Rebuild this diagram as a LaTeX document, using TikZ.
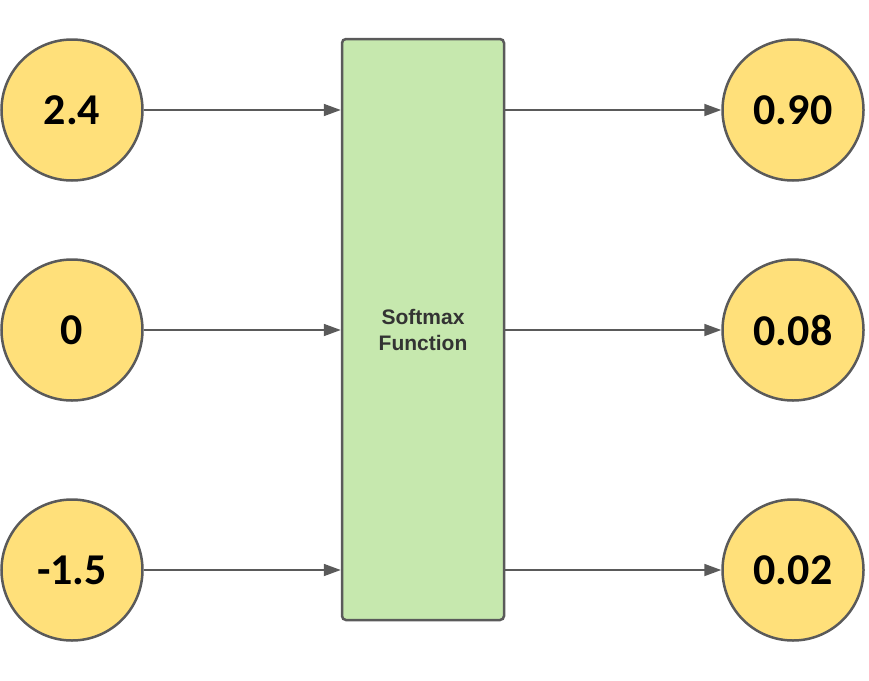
\documentclass[tikz,border=0pt]{standalone}
\usepackage{fontspec}
\usepackage{xcolor}
\usepackage{tikz}
\usetikzlibrary{arrows.meta,calc}
\newfontfamily\numfont{Carlito}
\newfontfamily\boxfont{Liberation Sans}
\definecolor{valfill}{HTML}{FFE07A}
\definecolor{boxfill}{HTML}{C6E8AE}
\definecolor{edgegray}{HTML}{5A5A5A}
\begin{document}
\begin{tikzpicture}[
x=1pt,
y=-1pt,
valnode/.style={circle,draw=edgegray,line width=2.5pt,fill=valfill,minimum size=141pt,inner sep=0pt,font=\numfont\bfseries\fontsize{44}{48}\selectfont},
smbox/.style={rectangle,rounded corners=4pt,draw=edgegray,line width=2.5pt,fill=boxfill,minimum width=162pt,minimum height=581pt,inner sep=0pt,align=center,text=black!80,font=\boxfont\bfseries\fontsize{21}{26}\selectfont},
valarr/.style={-{Triangle[length=17pt,width=12pt]},line width=1.8pt,draw=edgegray,color=edgegray}
]
\useasboundingbox (0,0) rectangle (869,680);
\node[valnode] (in1) at (72,110) {2.4};
\node[valnode] (in2) at (72,330) {0};
\node[valnode] (in3) at (72,570) {-1.5};

\node[smbox] (sm) at (423,329.5) {Softmax\\Function};

\node[valnode] (out1) at (793,110) {0.90};
\node[valnode] (out2) at (793,330) {0.08};
\node[valnode] (out3) at (793,570) {0.02};

\draw[valarr] (in1.east) -- (in1.east -| sm.west);
\draw[valarr] (in2.east) -- (in2.east -| sm.west);
\draw[valarr] (in3.east) -- (in3.east -| sm.west);

\draw[valarr] (out1.west -| sm.east) -- (out1.west);
\draw[valarr] (out2.west -| sm.east) -- (out2.west);
\draw[valarr] (out3.west -| sm.east) -- (out3.west);
\end{tikzpicture}
\end{document}
